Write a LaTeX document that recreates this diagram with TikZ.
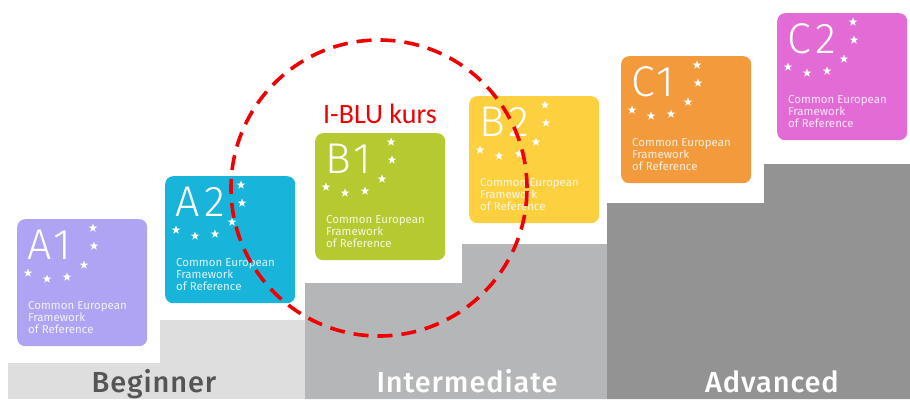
\documentclass[tikz,border=0pt]{standalone}
\usepackage{fontspec}
\setmainfont{Fira Sans}
\newfontfamily\lightfont[LetterSpace=10]{Fira Sans Light}
\newfontfamily\bandfont[LetterSpace=3]{Fira Sans Medium}
\newfontfamily\calfont{Carlito}
\usetikzlibrary{shapes.geometric,calc}
\definecolor{cAone}{HTML}{AFA3F3}
\definecolor{cAtwo}{HTML}{18B4DA}
\definecolor{cBone}{HTML}{B7C930}
\definecolor{cBtwo}{HTML}{FDD03F}
\definecolor{cCone}{HTML}{F39A3C}
\definecolor{cCtwo}{HTML}{E36BD5}
\definecolor{gBeg}{HTML}{DEDEDE}
\definecolor{gInt}{HTML}{B5B6B7}
\definecolor{gAdv}{HTML}{939393}
\definecolor{begText}{HTML}{555555}
\definecolor{ringred}{HTML}{F00000}
\tikzset{
  cardbox/.style={fill=#1, rounded corners=8pt, minimum width=130pt, minimum height=127pt, anchor=north west, inner sep=0pt, draw=none},
  cardstar/.style={star, star points=5, star point ratio=2.4, fill=white, minimum size=9pt, inner sep=0pt, draw=none},
  levelname/.style={font=\lightfont\fontsize{43}{43}\selectfont, text=white, anchor=base west, inner sep=0pt},
  cefr/.style={font=\fontsize{11.5}{12}\selectfont, text=white, text opacity=0.85, align=left, anchor=north west, inner sep=0pt},
  bandlabel/.style={font=\bandfont\fontsize{29}{29}\selectfont, anchor=base, inner sep=0pt},
}
\newcommand\cefrcard[5]{%
  \node[cardbox=#4] (#1) at (#2,#3) {};
  \node[levelname] (#1-lab) at ($(#1.north west)+(10,40)$) {#5};
  \foreach \sx/\sy [count=\k] in {76/9,77/27,67/46,50/58,30/60,11/54} {
    \node[cardstar] (#1-s\k) at ($(#1.north west)+(\sx,\sy)$) {};
  }
  \node[cefr] (#1-txt) at ($(#1.north west)+(11,82)$) {Common European\\Framework\\of Reference};
}
\begin{document}
\begin{tikzpicture}[x=1pt,y=-1pt]
\useasboundingbox (0,0) rectangle (910,399);
\fill[white] (0,0) rectangle (910,399);
% stairs
\fill[gBeg] (8,363) rectangle (305,399);
\fill[gBeg] (160,320) rectangle (305,363);
\fill[gInt] (305,283) -- (462,283) -- (462,244) -- (607,244) -- (607,399) -- (305,399) -- cycle;
\fill[gAdv] (607,203) -- (764,203) -- (764,164) -- (910,164) -- (910,399) -- (607,399) -- cycle;
\node[bandlabel, text=begText] (beg) at (154,392) {Beginner};
\node[bandlabel, text=white] (int) at (467,392) {Intermediate};
\node[bandlabel, text=white] (adv) at (772,392) {Advanced};
% cards
\cefrcard{a1}{17}{219}{cAone}{A1}
\cefrcard{a2}{165}{176}{cAtwo}{A2}
\cefrcard{b1}{315}{133}{cBone}{B1}
\cefrcard{b2}{469}{96}{cBtwo}{B2}
\cefrcard{c1}{621}{56}{cCone}{C1}
\cefrcard{c2}{777}{13}{cCtwo}{C2}
% highlight
\node[font=\calfont\fontsize{28}{28}\selectfont, text=ringred, anchor=base, inner sep=0pt] (iblu) at (380,123) {I-BLU kurs};
\node[circle, draw=ringred, line width=3.6pt, dash pattern=on 15pt off 9pt, minimum size=296pt, inner sep=0pt] (ring) at (379,188) {};
\end{tikzpicture}
\end{document}
